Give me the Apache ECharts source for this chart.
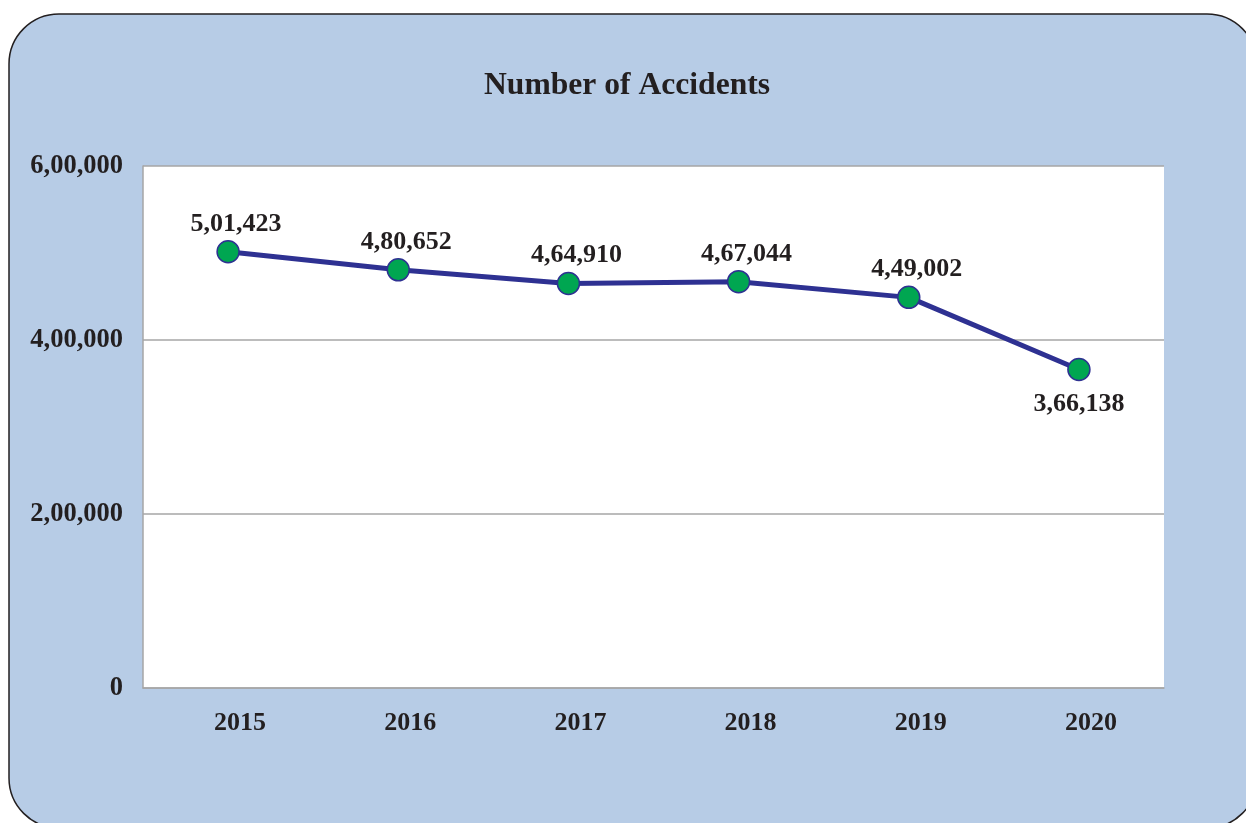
<!DOCTYPE html>
<html>
<head>
<meta charset="utf-8">
<title>Number of Accidents</title>
<script src="https://cdn.jsdelivr.net/npm/echarts@6/dist/echarts.min.js"></script>
<style>
  * {
    margin: 0;
    padding: 0;
  }
  body {
    background: #fff;
  }
  #chart {
    width: 1246px;
    height: 823px;
  }
</style>
</head>
<body>
<div id="chart"></div>
<script>
// data
var years = ['2015', '2016', '2017', '2018', '2019', '2020']
var accidents = [501423, 480652, 464910, 467044, 449002, 366138]
var yMin = 0
var yMax = 600000
var yStep = 200000

var textColor = '#231F20'
var serif = 'Liberation Serif, Times New Roman, serif'

// indian style grouping: 5,01,423
function inr (n) {
  var s = String(Math.round(n))
  if (s.length <= 3) return s
  var last3 = s.slice(-3)
  var rest = s.slice(0, -3).replace(/\B(?=(\d{2})+(?!\d))/g, ',')
  return rest + ',' + last3
}

var pointData = accidents.map(function (v, i) {
  var item = { value: v }
  if (i === accidents.length - 1) {
    // last label sits below the point
    item.label = { position: 'bottom', distance: 10, offset: [0, 0] }
  }
  return item
})

var chart = echarts.init(document.getElementById('chart'))

var option = {
  backgroundColor: '#fff',
  animation: false,
  graphic: [
    {
      type: 'rect',
      z: -10,
      shape: { x: 9, y: 14, width: 1248, height: 814, r: 50 },
      style: { fill: '#B7CCE6', stroke: '#231F20', lineWidth: 1.5 }
    }
  ],
  title: {
    text: 'Number of Accidents',
    left: 484,
    top: 70,
    padding: 0,
    textStyle: {
      fontFamily: serif,
      fontWeight: 'bold',
      fontSize: 31.6,
      color: textColor
    }
  },
  grid: {
    left: 143,
    right: 82,
    top: 166,
    bottom: 135,
    show: true,
    backgroundColor: '#fff',
    borderWidth: 0,
    containLabel: false
  },
  xAxis: {
    type: 'category',
    data: years,
    boundaryGap: true,
    axisLine: { show: true, lineStyle: { color: '#A6A6A6', width: 1.5 } },
    axisTick: { show: false },
    axisLabel: {
      margin: 22,
      padding: [0, 0, 0, 24],
      fontFamily: serif,
      fontWeight: 'bold',
      fontSize: 26,
      color: textColor
    }
  },
  yAxis: {
    type: 'value',
    min: yMin,
    max: yMax,
    interval: yStep,
    axisLine: { show: true, lineStyle: { color: '#A6A6A6', width: 1.5 } },
    axisTick: { show: false },
    splitLine: { show: true, lineStyle: { color: '#A6A6A6', width: 1.5 } },
    axisLabel: {
      margin: 20,
      fontFamily: serif,
      fontWeight: 'bold',
      fontSize: 26.5,
      color: textColor,
      formatter: function (v) { return inr(v) }
    }
  },
  series: [
    {
      name: 'Accidents',
      type: 'line',
      data: pointData,
      symbol: 'circle',
      symbolSize: 22,
      lineStyle: { color: '#2E3192', width: 5 },
      itemStyle: { color: '#00A651', borderColor: '#2E3192', borderWidth: 1.5 },
      label: {
        show: true,
        position: 'top',
        distance: 3,
        offset: [8, 0],
        fontFamily: serif,
        fontWeight: 'bold',
        fontSize: 26,
        color: textColor,
        formatter: function (p) { return inr(p.value) }
      }
    }
  ]
}

chart.setOption(option)
</script>
</body>
</html>
